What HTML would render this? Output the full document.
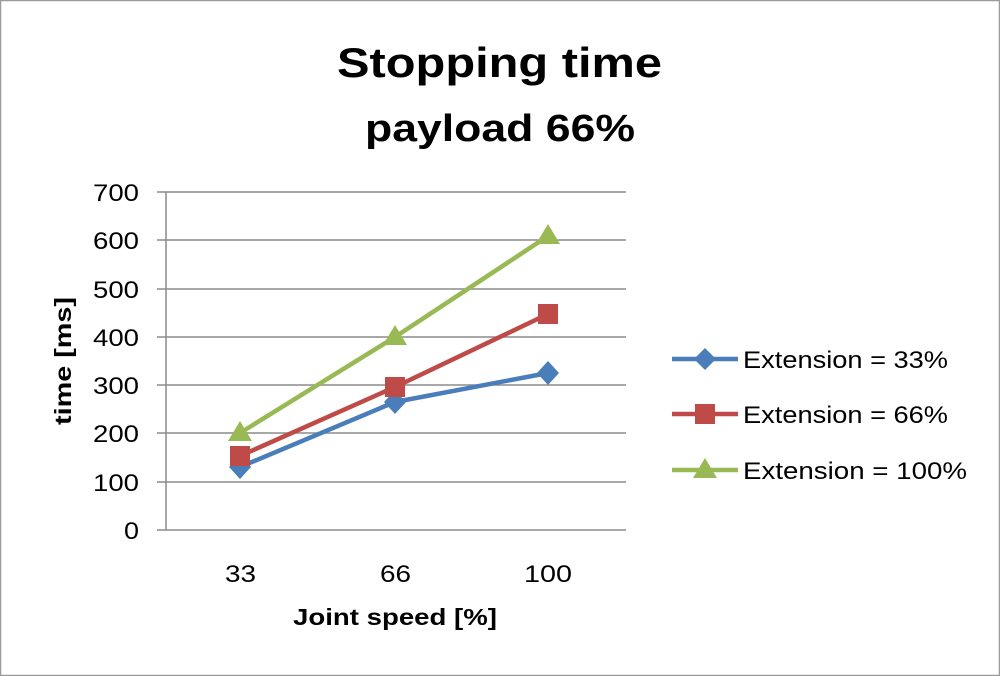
<!DOCTYPE html>
<html><head><style>body{margin:0;background:#fff}svg{display:block}text{font-family:"Liberation Sans",Calibri,sans-serif;fill:#000}</style></head><body>
<svg width="1000" height="676" viewBox="0 0 1000 676" xmlns="http://www.w3.org/2000/svg">
<rect x="0.5" y="0.5" width="999" height="675" fill="#fff" stroke="#9a9a9a" stroke-width="1.5"/>
<text x="337" y="77" font-size="42" font-weight="bold" textLength="325" lengthAdjust="spacingAndGlyphs">Stopping time</text>
<text x="365" y="141" font-size="38" font-weight="bold" textLength="270" lengthAdjust="spacingAndGlyphs">payload 66%</text>
<g stroke="#8c8c8c" stroke-width="1.5">
<line x1="157" y1="192" x2="626" y2="192"/><line x1="157" y1="240" x2="626" y2="240"/>
<line x1="157" y1="289" x2="626" y2="289"/><line x1="157" y1="337" x2="626" y2="337"/>
<line x1="157" y1="385" x2="626" y2="385"/><line x1="157" y1="433" x2="626" y2="433"/>
<line x1="157" y1="482" x2="626" y2="482"/><line x1="157" y1="530" x2="626" y2="530"/>
<line x1="166" y1="192" x2="166" y2="530"/>
</g>
<g font-size="24" text-anchor="end">
<text x="139" y="201" textLength="46" lengthAdjust="spacingAndGlyphs">700</text><text x="139" y="249" textLength="46" lengthAdjust="spacingAndGlyphs">600</text><text x="139" y="298" textLength="46" lengthAdjust="spacingAndGlyphs">500</text>
<text x="139" y="346" textLength="46" lengthAdjust="spacingAndGlyphs">400</text><text x="139" y="394" textLength="46" lengthAdjust="spacingAndGlyphs">300</text><text x="139" y="442" textLength="46" lengthAdjust="spacingAndGlyphs">200</text>
<text x="139" y="491" textLength="46" lengthAdjust="spacingAndGlyphs">100</text><text x="139" y="539" textLength="15" lengthAdjust="spacingAndGlyphs">0</text>
</g>
<g font-size="24">
<text x="225" y="582" textLength="31" lengthAdjust="spacingAndGlyphs">33</text><text x="380" y="582" textLength="31" lengthAdjust="spacingAndGlyphs">66</text><text x="524" y="582" textLength="48" lengthAdjust="spacingAndGlyphs">100</text>
</g>
<text x="293" y="625" font-size="23" font-weight="bold" textLength="204" lengthAdjust="spacingAndGlyphs">Joint speed [%]</text>
<text transform="translate(71,425) rotate(-90)" font-size="23" font-weight="bold" textLength="128" lengthAdjust="spacingAndGlyphs">time [ms]</text>
<g fill="none" stroke-width="4.5" stroke-linejoin="round">
<polyline points="240,467 395,402 548,373" stroke="#4a7ebb"/>
<polyline points="240,456 395,387 548,314" stroke="#be4b48"/>
<polyline points="240,433 395,337 548,236" stroke="#98b954"/>
</g>
<g fill="#4a7ebb"><path d="M240,455 l11,12 l-11,12 l-11,-12z"/><path d="M395,390 l11,12 l-11,12 l-11,-12z"/><path d="M548,361 l11,12 l-11,12 l-11,-12z"/></g>
<g fill="#be4b48"><rect x="230" y="446" width="20" height="20"/><rect x="385" y="377" width="20" height="20"/><rect x="538" y="304" width="20" height="20"/></g>
<g fill="#98b954"><path d="M240,421 l12,20 h-24z"/><path d="M395,325 l12,20 h-24z"/><path d="M548,224 l12,20 h-24z"/></g>
<g stroke-width="4.5">
<line x1="672" y1="359" x2="738" y2="359" stroke="#4a7ebb"/>
<line x1="672" y1="414" x2="738" y2="414" stroke="#be4b48"/>
<line x1="672" y1="470" x2="738" y2="470" stroke="#98b954"/>
</g>
<path d="M705,348 l11,11 l-11,11 l-11,-11z" fill="#4a7ebb"/>
<rect x="695" y="404" width="20" height="20" fill="#be4b48"/>
<path d="M705,458 l12,20 h-24z" fill="#98b954"/>
<g font-size="24">
<text x="743" y="368" textLength="205" lengthAdjust="spacingAndGlyphs">Extension = 33%</text>
<text x="743" y="423" textLength="205" lengthAdjust="spacingAndGlyphs">Extension = 66%</text>
<text x="743" y="479" textLength="224" lengthAdjust="spacingAndGlyphs">Extension = 100%</text>
</g>
</svg>
</body></html>
